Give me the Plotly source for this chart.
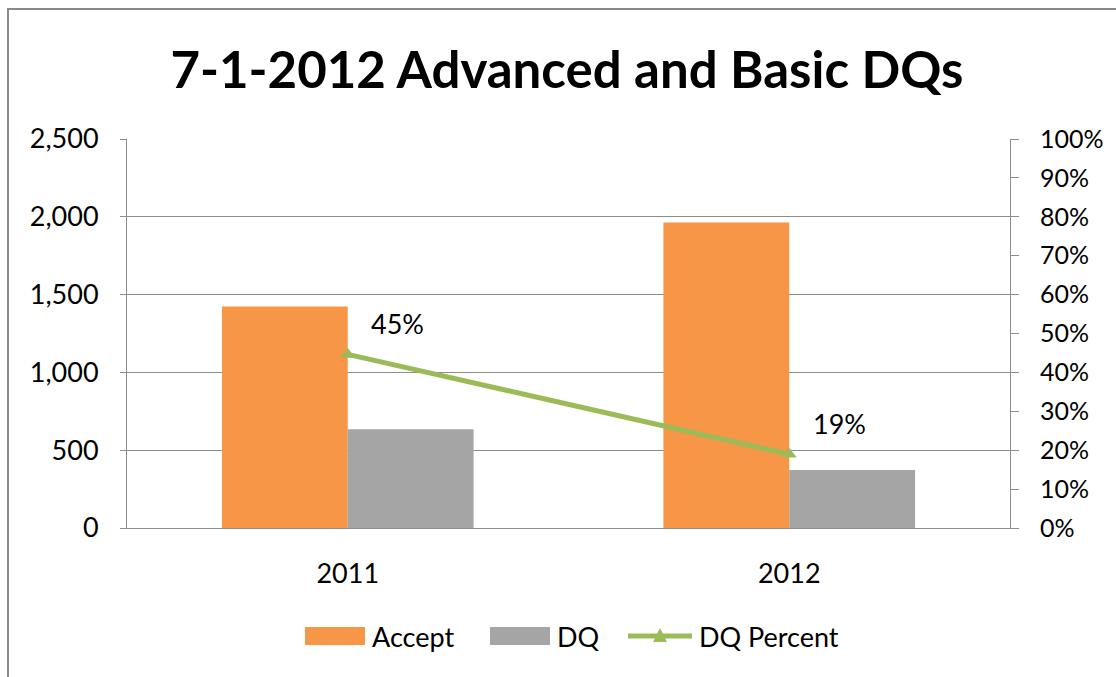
import plotly.graph_objects as go

# Yearly counts of accepted entries and DQs
years = ["2011", "2012"]
accept = [1423, 1963]
dq = [635, 372]
dq_percent = [d / a for d, a in zip(dq, accept)]

series_names = ["Accept", "DQ", "DQ Percent"]
colors = {"Accept": "#F79646", "DQ": "#A5A5A5", "DQ Percent": "#9BBB59"}

W, H = 1116, 677
ML, MR, MT, MB = 127, 106, 139, 149
PW, PH = W - ML - MR, H - MT - MB
FONT = "Lato"
GRID = "#8C8C8C"


def px_x(x):
    return (x - ML) / PW


def px_y(y):
    return (H - MB - y) / PH


fig = go.Figure()
fig.add_trace(go.Bar(x=years, y=accept, name=series_names[0],
                     marker=dict(color=colors["Accept"], line=dict(width=0)),
                     showlegend=False))
fig.add_trace(go.Bar(x=years, y=dq, name=series_names[1],
                     marker=dict(color=colors["DQ"], line=dict(width=0)),
                     showlegend=False))
fig.add_trace(go.Scatter(x=years, y=dq_percent, name=series_names[2], yaxis="y2",
                         mode="lines+markers",
                         line=dict(color=colors["DQ Percent"], width=5),
                         marker=dict(symbol="triangle-up", size=13,
                                     color=colors["DQ Percent"]),
                         showlegend=False))

annotations = []
# value labels for the percent line (category index positions)
for i, p in enumerate(dq_percent):
    annotations.append(dict(x=i, y=p, xref="x", yref="y2",
                            text=f"{p:.0%}", showarrow=False,
                            xanchor="center", yanchor="middle",
                            xshift=50, yshift=31,
                            font=dict(family=FONT, size=27, color="#000000")))

shapes = [
    # chart frame
    dict(type="rect", xref="paper", yref="paper",
         x0=px_x(8), x1=px_x(1130), y0=px_y(690), y1=px_y(9),
         line=dict(color="#8A8A8A", width=2), fillcolor="rgba(0,0,0,0)",
         layer="below"),
]

# legend row drawn beneath the plot
ly = px_y(636)
legend_items = [
    ("Accept", "bar", 305, 365, 370),
    ("DQ", "bar", 490, 550, 555),
    ("DQ Percent", "line", 628, 692, 697),
]
for name, kind, x0, x1, tx in legend_items:
    if kind == "bar":
        shapes.append(dict(type="rect", xref="paper", yref="paper",
                           x0=px_x(x0), x1=px_x(x1),
                           y0=ly - 9 / PH, y1=ly + 9 / PH,
                           fillcolor=colors[name], line=dict(width=0)))
    else:
        shapes.append(dict(type="line", xref="paper", yref="paper",
                           x0=px_x(x0), x1=px_x(x1), y0=ly, y1=ly,
                           line=dict(color=colors[name], width=5)))
        shapes.append(dict(type="path", xref="paper", yref="paper",
                           path=(f"M {px_x((x0 + x1) / 2 - 7)},{ly - 6 / PH} "
                                 f"L {px_x((x0 + x1) / 2 + 7)},{ly - 6 / PH} "
                                 f"L {px_x((x0 + x1) / 2)},{ly + 8 / PH} Z"),
                           fillcolor=colors[name], line=dict(width=0)))
    annotations.append(dict(x=px_x(tx), y=ly, xref="paper", yref="paper",
                            text=name, showarrow=False,
                            xanchor="left", yanchor="middle",
                            font=dict(family=FONT, size=27, color="#000000")))

fig.update_layout(
    width=W, height=H,
    margin=dict(l=ML, r=MR, t=MT, b=MB),
    paper_bgcolor="white", plot_bgcolor="white",
    barmode="group", bargap=0.43, bargroupgap=0,
    title=dict(text="<b>7-1-2012 Advanced and Basic DQs</b>",
               x=0.508, xanchor="center", y=1 - 70 / H, yanchor="middle",
               yref="container",
               font=dict(family=FONT, size=51, color="#000000")),
    font=dict(family=FONT, size=27, color="#000000"),
    xaxis=dict(type="category", range=[-0.5, len(years) - 0.5],
               showline=True, linecolor=GRID, linewidth=1,
               mirror=False, ticks="", showgrid=False,
               tickfont=dict(family=FONT, size=27),
               ticklabelstandoff=22),
    yaxis=dict(range=[0, 2500], dtick=500, tickformat=",",
               showgrid=True, gridcolor=GRID, gridwidth=1,
               showline=True, linecolor=GRID, linewidth=1,
               ticks="outside", ticklen=6, tickcolor=GRID,
               zeroline=False,
               tickfont=dict(family=FONT, size=27),
               ticklabelstandoff=16),
    yaxis2=dict(range=[0, 1], dtick=0.1, tickformat=".0%",
                overlaying="y", side="right", showgrid=False,
                showline=True, linecolor=GRID, linewidth=1,
                ticks="outside", ticklen=8, tickcolor=GRID,
                zeroline=False,
                tickfont=dict(family=FONT, size=25),
                ticklabelstandoff=16),
    annotations=annotations,
    shapes=shapes,
    showlegend=False,
)

fig.write_html("out.html")
